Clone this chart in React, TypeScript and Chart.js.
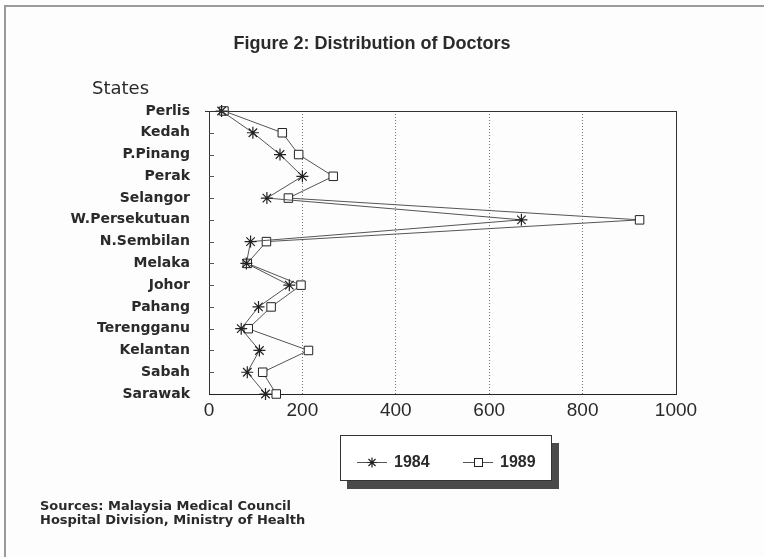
import React, { useEffect, useRef } from 'react';
import { Chart, registerables } from 'chart.js';

Chart.register(...registerables);

const states = ['Perlis', 'Kedah', 'P.Pinang', 'Perak', 'Selangor', 'W.Persekutuan', 'N.Sembilan', 'Melaka', 'Johor', 'Pahang', 'Terengganu', 'Kelantan', 'Sabah', 'Sarawak'];
const doctors1984 = [27, 94, 152, 200, 124, 669, 89, 80, 172, 106, 69, 108, 82, 121];
const doctors1989 = [32, 157, 192, 266, 170, 922, 123, 82, 197, 133, 84, 213, 115, 144];
const xTickValues = [0, 200, 400, 600, 800, 1000];
const seriesLabels = ['1984', '1989'];
const titleText = 'Figure 2: Distribution of Doctors';
const axisTitle = 'States';
const sourceLines = ['Sources: Malaysia Medical Council', 'Hospital Division, Ministry of Health'];

const INK = '#2a2a2a';
const LINE = '#555555';

function drawStar(ctx: CanvasRenderingContext2D, x: number, y: number, r: number) {
  const d = r * Math.SQRT1_2;
  ctx.beginPath();
  ctx.moveTo(x - r, y); ctx.lineTo(x + r, y);
  ctx.moveTo(x, y - r); ctx.lineTo(x, y + r);
  ctx.moveTo(x - d, y - d); ctx.lineTo(x + d, y + d);
  ctx.moveTo(x - d, y + d); ctx.lineTo(x + d, y - d);
  ctx.stroke();
}

const decorPlugin = {
  id: 'decor',
  beforeDraw(chart: any) {
    const ctx = chart.ctx as CanvasRenderingContext2D;
    ctx.save();
    ctx.fillStyle = '#fdfdfd';
    ctx.fillRect(0, 0, chart.width, chart.height);
    ctx.restore();
  },
  afterDraw(chart: any) {
    const ctx = chart.ctx as CanvasRenderingContext2D;
    const { left, right, top, bottom } = chart.chartArea;
    const yScale = chart.scales.y;
    ctx.save();

    // outer frame (left and top edges)
    ctx.strokeStyle = '#9a9a9a';
    ctx.lineWidth = 2;
    ctx.beginPath();
    ctx.moveTo(5, chart.height);
    ctx.lineTo(5, 6);
    ctx.lineTo(chart.width, 6);
    ctx.stroke();

    // plot frame: left, top and right
    ctx.strokeStyle = '#333';
    ctx.lineWidth = 1;
    ctx.beginPath();
    ctx.moveTo(Math.round(left) + 0.5, top);
    ctx.lineTo(Math.round(left) + 0.5, bottom);
    ctx.moveTo(left - 4, Math.round(top) + 0.5);
    ctx.lineTo(right, Math.round(top) + 0.5);
    ctx.moveTo(Math.round(right) + 0.5, top);
    ctx.lineTo(Math.round(right) + 0.5, bottom);
    ctx.stroke();

    // inward ticks on category axis
    ctx.strokeStyle = '#555';
    ctx.beginPath();
    for (let i = 1; i < states.length - 1; i++) {
      const y = Math.round(yScale.getPixelForValue(i)) + 0.5;
      ctx.moveTo(left, y);
      ctx.lineTo(left + 5, y);
    }
    ctx.stroke();

    // title
    ctx.fillStyle = INK;
    ctx.textBaseline = 'middle';
    ctx.textAlign = 'center';
    ctx.font = 'bold 18px "Liberation Sans", Arial, sans-serif';
    ctx.fillText(titleText, 372, 44);

    // axis title
    ctx.textAlign = 'left';
    ctx.font = '18px "DejaVu Sans", sans-serif';
    ctx.fillText(axisTitle, 92, 89);

    // sources
    ctx.font = 'bold 13px "DejaVu Sans", sans-serif';
    ctx.fillText(sourceLines[0], 40, 507);
    ctx.fillText(sourceLines[1], 40, 521);

    // legend
    ctx.fillStyle = '#4a4a4a';
    ctx.fillRect(347, 443, 212, 46);
    ctx.fillStyle = '#ffffff';
    ctx.fillRect(340, 435, 212, 46);
    ctx.strokeStyle = '#333';
    ctx.lineWidth = 1;
    ctx.strokeRect(340.5, 435.5, 211, 45);

    const ly = 462;
    const ds = chart.data.datasets;
    ctx.strokeStyle = LINE;
    ctx.beginPath();
    ctx.moveTo(357, ly + 0.5); ctx.lineTo(387, ly + 0.5);
    ctx.moveTo(463, ly + 0.5); ctx.lineTo(493, ly + 0.5);
    ctx.stroke();
    ctx.strokeStyle = '#222';
    ctx.lineWidth = 1.2;
    drawStar(ctx, 372, ly + 0.5, 5);
    ctx.fillStyle = '#fff';
    ctx.lineWidth = 1;
    ctx.fillRect(474.5, ly - 3.5, 8, 8);
    ctx.strokeRect(474.5, ly - 3.5, 8, 8);
    ctx.fillStyle = INK;
    ctx.font = 'bold 16px "Liberation Sans", Arial, sans-serif';
    ctx.textAlign = 'left';
    ctx.fillText(ds[0].label, 394, ly + 1);
    ctx.fillText(ds[1].label, 500, ly + 1);

    ctx.restore();
  },
};

export default function App() {
  const canvasRef = useRef<HTMLCanvasElement | null>(null);

  useEffect(() => {
    const canvas = canvasRef.current;
    if (!canvas) return;
    const chart = new Chart(canvas, {
      type: 'line',
      data: {
        labels: states,
        datasets: [
          {
            label: seriesLabels[0],
            data: doctors1984,
            borderColor: LINE,
            borderWidth: 1,
            pointStyle: 'star',
            pointRadius: 6,
            pointBorderColor: '#222',
            pointBorderWidth: 1.2,
            pointBackgroundColor: '#222',
            tension: 0,
            fill: false,
          },
          {
            label: seriesLabels[1],
            data: doctors1989,
            borderColor: LINE,
            borderWidth: 1,
            pointStyle: 'rect',
            pointRadius: 6,
            pointBorderColor: '#222',
            pointBorderWidth: 1,
            pointBackgroundColor: '#ffffff',
            tension: 0,
            fill: false,
          },
        ],
      },
      options: {
        indexAxis: 'y',
        responsive: false,
        animation: false,
        devicePixelRatio: 1,
        layout: { padding: { left: 0, top: 111, right: 88, bottom: 133 } },
        plugins: {
          legend: { display: false },
          title: { display: false },
          tooltip: { enabled: false },
        },
        scales: {
          x: {
            type: 'linear',
            min: 0,
            max: 1000,
            afterBuildTicks: (scale: any) => {
              scale.ticks = xTickValues.map((v) => ({ value: v }));
            },
            afterFit: (scale: any) => {
              scale.height = 30;
            },
            ticks: {
              callback: (v: any) => String(v),
              color: INK,
              font: { family: '"Liberation Sans", Arial, sans-serif', size: 19 },
              padding: 5,
              maxRotation: 0,
            },
            grid: {
              display: true,
              drawTicks: false,
              color: '#777',
              lineWidth: 1,
            },
            border: { display: true, color: '#222', width: 1, dash: [1, 2] },
          },
          y: {
            type: 'category',
            offset: false,
            afterFit: (scale: any) => {
              scale.width = 209;
            },
            ticks: {
              color: INK,
              font: { family: '"DejaVu Sans", sans-serif', size: 14, weight: 'bold' },
              padding: 19,
              autoSkip: false,
            },
            grid: { display: false, drawTicks: false },
            border: { display: true, color: '#222', width: 1 },
          },
        },
      },
      plugins: [decorPlugin],
    } as any);
    return () => chart.destroy();
  }, []);

  return (
    <div style={{ position: 'absolute', left: 0, top: 0, width: 764, height: 557 }}>
      <canvas ref={canvasRef} width={764} height={557} style={{ display: 'block' }} />
    </div>
  );
}
